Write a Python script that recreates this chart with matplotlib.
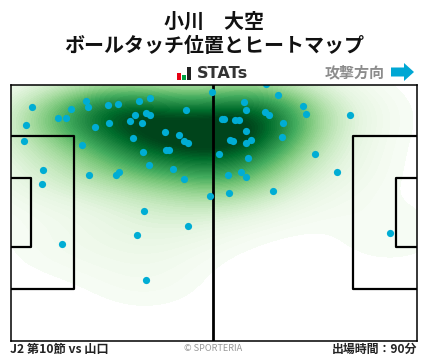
import numpy as np
import matplotlib
matplotlib.use('Agg')
from matplotlib import pyplot as plt
from matplotlib.patches import Rectangle, FancyArrow

plt.rcParams['font.family'] = ['Noto Sans CJK JP', 'DejaVu Sans']

# touch positions (image pixels)
touch_x = [32.3, 26.3, 24.3, 43.3, 42.3, 71.3, 58.3, 66.3, 86.3, 88.3, 108.3, 118.3, 139.3, 150.3,
           135.3, 146.3, 150.3, 130.3, 142.3, 109.3, 95.3, 186.3, 165.3, 179.3, 184.3, 188.3,
           133.3, 82.3, 143.3, 166.3, 169.3, 149.3, 173.3, 184.3, 89.3, 116.3, 119.3, 210.3,
           144.3, 212.3, 266.3, 278.3, 244.3, 246.3, 265.3, 269.3, 303.3, 306.3, 350.3, 222.3,
           224.3, 235.3, 239.3, 283.3, 246.3, 282.3, 230.3, 233.3, 246.3, 251.3, 219.3, 248.3,
           315.3, 337.3, 241.3, 246.3, 228.3, 229.3, 273.3, 62.3, 137.3, 188.3, 146.3, 390.3]
touch_y = [107.3, 125.3, 141.3, 170.3, 184.3, 109.3, 118.3, 118.3, 101.3, 107.3, 105.3, 104.3, 101.3, 98.3,
           115.3, 113.3, 115.3, 121.3, 123.3, 123.3, 127.3, 110.3, 132.3, 135.3, 141.3, 143.3,
           138.3, 145.3, 152.3, 150.3, 150.3, 165.3, 169.3, 179.3, 175.3, 175.3, 172.3, 196.3,
           211.3, 92.3, 84.0, 95.3, 102.3, 110.3, 112.3, 115.3, 106.3, 114.3, 115.3, 119.3,
           119.3, 120.3, 120.3, 123.3, 131.3, 137.3, 140.3, 141.3, 143.3, 140.3, 154.3, 158.3,
           154.3, 172.3, 172.3, 177.3, 175.3, 193.3, 191.3, 244.3, 235.3, 226.3, 280.3, 233.3]

title_lines = ['小川\u3000大空', 'ボールタッチ位置とヒートマップ']
footer_left = 'J2 第10節 vs 山口'
footer_right = '出場時間：90分'

W, H = 428, 359
fig = plt.figure(figsize=(W / 100, H / 100), dpi=100)
ax = fig.add_axes([10.5 / W, 1 - 340.5 / H, 406 / W, 256 / H])
ax.set_xlim(10.5, 416.5)
ax.set_ylim(340.5, 84.5)
ax.set_xticks([])
ax.set_yticks([])
for s in ax.spines.values():
    s.set_linewidth(1.1)
    s.set_zorder(5)

# heatmap: gaussian kde of the touches
gx, gy = np.meshgrid(np.linspace(10.5, 416.5, 407), np.linspace(84.5, 340.5, 257))
px = np.array(touch_x)
py = np.array(touch_y)
sx, sy = 46.0, 25.0
dens = np.zeros_like(gx)
for a, b in zip(px, py):
    dens += np.exp(-0.5 * (((gx - a) / sx) ** 2 + ((gy - b) / sy) ** 2))
dens /= dens.max()
dens = dens ** 1.15
ax.contourf(gx, gy, dens, levels=np.linspace(0.02, 0.93, 60), cmap='Greens', extend='max', zorder=1)

# pitch lines
lw = 1.6
ax.plot([212.5, 212.5], [84.5, 340.5], color='k', lw=2.0, zorder=3)
ax.plot([10.5, 74, 74, 10.5], [136, 136, 289, 289], color='k', lw=lw, zorder=3)
ax.plot([10.5, 31, 31, 10.5], [178, 178, 247, 247], color='k', lw=lw, zorder=3)
ax.plot([416.5, 352.5, 352.5, 416.5], [136, 136, 289, 289], color='k', lw=lw, zorder=3)
ax.plot([416.5, 396, 396, 416.5], [178, 178, 247, 247], color='k', lw=lw, zorder=3)

ax.scatter(px, py, s=27, color='#00add4', linewidths=0, zorder=4)

# titles
fig.text(214 / W, 1 - 21.5 / H, title_lines[0], ha='center', va='center', fontsize=14.4,
         fontweight='bold', color='#111111')
fig.text(214 / W, 1 - 46 / H, title_lines[1], ha='center', va='center', fontsize=14.4,
         fontweight='bold', color='#111111')

# STATs logo
for x0, y0, w, c in [(177, 73, 4, '#e60012'), (182, 75, 4, '#00a040'), (187, 67, 4, '#222222')]:
    fig.add_artist(Rectangle((x0 / W, 1 - 80 / H), w / W, (80 - y0) / H, color=c,
                             transform=fig.transFigure, lw=0))
fig.text(197 / W, 1 - 74 / H, 'STATs', ha='left', va='center', fontsize=11.6, fontweight='bold',
         color='#333333', family='DejaVu Sans')

# attack direction
fig.text(385 / W, 1 - 72 / H, '攻撃方向', ha='right', va='center', fontsize=10.8,
         fontweight='bold', color='#8c8c8c')
fig.add_artist(FancyArrow(391 / W, 1 - 72 / H, 23 / W, 0, width=9 / H, head_width=18 / H,
                          head_length=10 / W, length_includes_head=True, color='#00a7d4', lw=0,
                          transform=fig.transFigure))

# footer
fig.text(10 / W, 1 - 350 / H, footer_left, ha='left', va='center', fontsize=8.8,
         fontweight='bold', color='#222222')
fig.text(213 / W, 1 - 348.5 / H, '© SPORTERIA', ha='center', va='center', fontsize=6.6,
         color='#999999')
fig.text(417 / W, 1 - 349.5 / H, footer_right, ha='right', va='center', fontsize=8.6,
         fontweight='bold', color='#222222')

fig.savefig('out.png', dpi=100)
